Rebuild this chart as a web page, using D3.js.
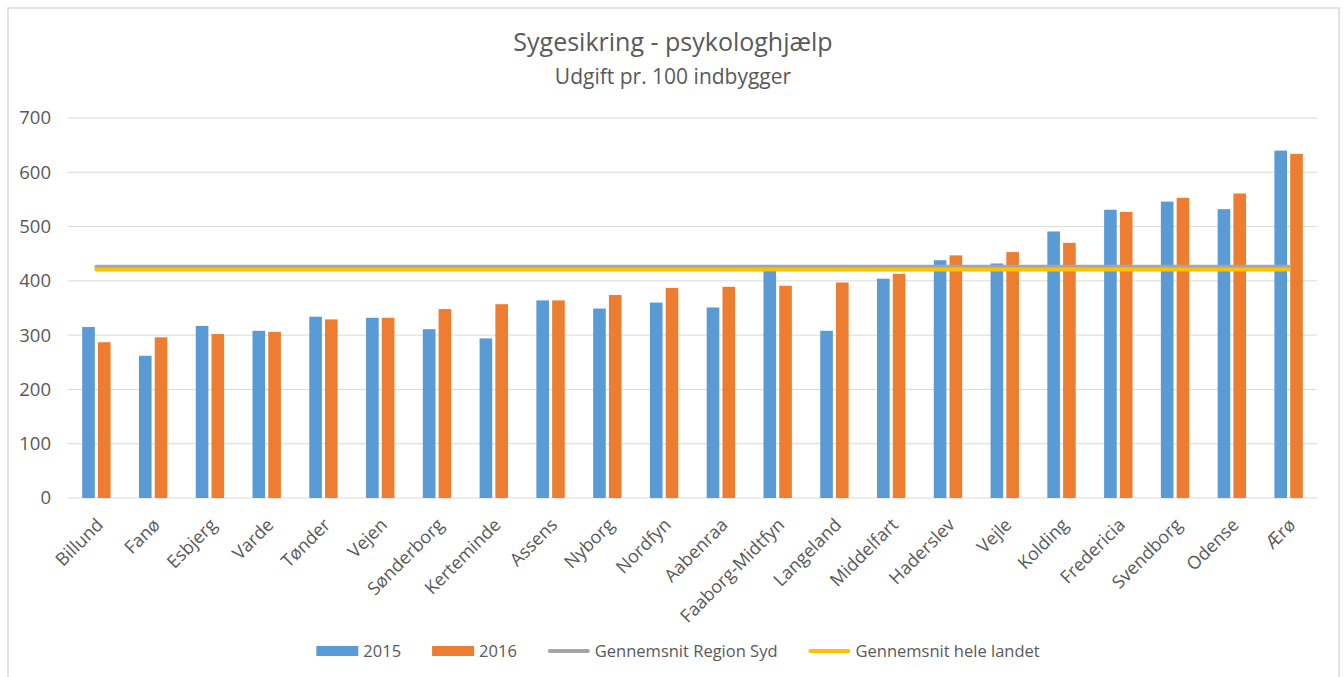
<!DOCTYPE html>
<html lang="da">
<head>
<meta charset="UTF-8">
<title>Sygesikring - psykologhjælp</title>
<script src="https://cdn.jsdelivr.net/npm/d3@7"></script>
<style>
  body { margin: 0; background: #fff; }
  svg text { font-family: "Open Sans", Lato, sans-serif; fill: #595959; }
</style>
</head>
<body>
<svg id="chart" width="1344" height="677"></svg>
<script>
// data
var kommuner = ["Billund", "Fanø", "Esbjerg", "Varde", "Tønder", "Vejen", "Sønderborg",
  "Kerteminde", "Assens", "Nyborg", "Nordfyn", "Aabenraa", "Faaborg-Midtfyn", "Langeland",
  "Middelfart", "Haderslev", "Vejle", "Kolding", "Fredericia", "Svendborg", "Odense", "Ærø"];
var udgift2015 = [315, 262, 317, 308, 334, 332, 311, 294, 364, 349, 360, 351, 420, 308,
  404, 438, 432, 491, 531, 546, 532, 640];
var udgift2016 = [287, 296, 302, 306, 329, 332, 348, 357, 364, 374, 387, 389, 391, 397,
  413, 447, 453, 470, 527, 553, 561, 634];
var snitRegionSyd = 426;
var snitHeleLandet = 421;
var aar = ["2015", "2016"];
var yTicks = [0, 100, 200, 300, 400, 500, 600, 700];

var farver = { "2015": "#5b9bd5", "2016": "#ed7d31", region: "#a5a5a5", land: "#ffc000" };

var svg = d3.select("#chart");
var plotLeft = 68, plotRight = 1317, plotTop = 118, plotBottom = 498;

// chart frame
svg.append("rect")
  .attr("x", 8).attr("y", 8)
  .attr("width", 1331).attr("height", 690)
  .attr("fill", "none")
  .attr("stroke", "#d9d9d9")
  .attr("stroke-width", 1.5);

svg.append("text")
  .attr("x", 673).attr("y", 51)
  .attr("text-anchor", "middle")
  .style("font-size", "25px")
  .text("Sygesikring - psykologhjælp");

svg.append("text")
  .attr("x", 673).attr("y", 84)
  .attr("text-anchor", "middle")
  .style("font-size", "21px")
  .text("Udgift pr. 100 indbygger");

var x = d3.scaleBand()
  .domain(kommuner)
  .range([plotLeft, plotRight])
  .paddingInner(0.5)
  .paddingOuter(0.25);

var x1 = d3.scaleBand()
  .domain(aar)
  .range([0, x.bandwidth()])
  .paddingInner(0.2);

var y = d3.scaleLinear()
  .domain([0, 700])
  .range([plotBottom, plotTop]);

// gridlines
svg.append("g")
  .selectAll("line")
  .data(yTicks)
  .enter()
  .append("line")
  .attr("x1", plotLeft).attr("x2", plotRight)
  .attr("y1", function(d) { return y(d); })
  .attr("y2", function(d) { return y(d); })
  .attr("stroke", "#d9d9d9")
  .attr("stroke-width", 1);

// y axis labels
var yAxis = svg.append("g")
  .attr("transform", "translate(" + (plotLeft - 17) + ",0)")
  .call(d3.axisLeft(y).tickValues(yTicks).tickSize(0).tickPadding(0));
yAxis.select(".domain").remove();
yAxis.selectAll("text").style("font-size", "18.5px").attr("fill", "#595959");

// bars
var rows = kommuner.map(function(k, i) {
  return { kommune: k, "2015": udgift2015[i], "2016": udgift2016[i] };
});

var grupper = svg.append("g")
  .selectAll("g")
  .data(rows)
  .enter()
  .append("g")
  .attr("transform", function(d) { return "translate(" + x(d.kommune) + ",0)"; });

grupper.selectAll("rect")
  .data(function(d) { return aar.map(function(a) { return { aar: a, value: d[a] }; }); })
  .enter()
  .append("rect")
  .attr("x", function(d) { return x1(d.aar); })
  .attr("y", function(d) { return y(d.value); })
  .attr("width", x1.bandwidth())
  .attr("height", function(d) { return plotBottom - y(d.value); })
  .attr("fill", function(d) { return farver[d.aar]; });

// x axis labels
var xAxis = svg.append("g")
  .attr("transform", "translate(0," + plotBottom + ")")
  .call(d3.axisBottom(x).tickSize(0).tickPadding(0));
xAxis.select(".domain").remove();
xAxis.selectAll("text")
  .style("font-size", "18px")
  .attr("fill", "#595959")
  .attr("text-anchor", "end")
  .attr("dy", 0)
  .attr("transform", "translate(8,28) rotate(-45)");

// average lines
var x0 = x(kommuner[0]) + x.bandwidth() / 2;
var xN = x(kommuner[kommuner.length - 1]) + x.bandwidth() / 2;
[[snitRegionSyd, farver.region], [snitHeleLandet, farver.land]].forEach(function(l) {
  svg.append("line")
    .attr("x1", x0).attr("x2", xN)
    .attr("y1", y(l[0])).attr("y2", y(l[0]))
    .attr("stroke", l[1])
    .attr("stroke-width", 4)
    .attr("stroke-linecap", "round");
});

// legend
var legendItems = [
  { navn: "2015", farve: farver["2015"], type: "bar" },
  { navn: "2016", farve: farver["2016"], type: "bar" },
  { navn: "Gennemsnit Region Syd", farve: farver.region, type: "line" },
  { navn: "Gennemsnit hele landet", farve: farver.land, type: "line" }
];
var legend = svg.append("g");
var pos = 0;
legendItems.forEach(function(item) {
  var g = legend.append("g").attr("transform", "translate(" + pos + ",0)");
  if (item.type === "bar") {
    g.append("rect").attr("x", 0).attr("y", -5).attr("width", 42).attr("height", 10).attr("fill", item.farve);
  } else {
    g.append("line").attr("x1", 2).attr("x2", 40).attr("y1", 0).attr("y2", 0)
      .attr("stroke", item.farve).attr("stroke-width", 4).attr("stroke-linecap", "round");
  }
  var t = g.append("text").attr("x", 47).attr("y", 6).style("font-size", "16.5px").text(item.navn);
  pos += 47 + t.node().getComputedTextLength() + 31;
});
pos -= 31;
legend.attr("transform", "translate(" + (678 - pos / 2) + ",651)");
</script>
</body>
</html>
